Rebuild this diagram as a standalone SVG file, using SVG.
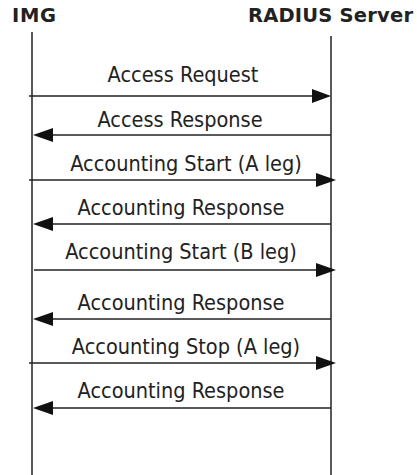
<svg xmlns="http://www.w3.org/2000/svg" width="417" height="475" viewBox="0 0 417 475">
<style>
.hdr{font-family:"DejaVu Sans","Liberation Sans",sans-serif;font-weight:bold;font-size:19.5px;fill:#222}
.lbl{font-family:"DejaVu Sans Condensed","DejaVu Sans",sans-serif;font-size:21.5px;fill:#222;text-anchor:middle}
.life{stroke:#222;stroke-width:1.5;fill:none}
.msg{stroke:#222;stroke-width:1.5;fill:none}
.head{fill:#111}
</style>
<rect width="417" height="475" fill="#fff"/>
<g id="img">
<text class="hdr" x="12" y="22" textLength="44" lengthAdjust="spacing">IMG</text>
<line class="life" x1="32" y1="32" x2="32" y2="475"/>
</g>
<g id="radius">
<text class="hdr" x="248" y="22" textLength="165" lengthAdjust="spacing">RADIUS Server</text>
<line class="life" x1="331" y1="36" x2="331" y2="475"/>
</g>
<g id="connectors">
<line class="msg" x1="29" y1="96" x2="314" y2="96"/>
<polygon class="head" points="312,89 331,96 312,103"/>
<text class="lbl" x="183" y="82">Access Request</text>
<line class="msg" x1="331" y1="135" x2="50" y2="135"/>
<polygon class="head" points="53,128 33,135 53,142"/>
<text class="lbl" x="180" y="127">Access Response</text>
<line class="msg" x1="29" y1="180" x2="318" y2="180"/>
<polygon class="head" points="316,173 336,180 316,187"/>
<text class="lbl" x="186" y="171">Accounting Start (A leg)</text>
<line class="msg" x1="331" y1="224" x2="50" y2="224"/>
<polygon class="head" points="53,217 33,224 53,231"/>
<text class="lbl" x="181" y="215">Accounting Response</text>
<line class="msg" x1="34" y1="270" x2="318" y2="270"/>
<polygon class="head" points="316,263 336,270 316,277"/>
<text class="lbl" x="181" y="259">Accounting Start (B leg)</text>
<line class="msg" x1="331" y1="319" x2="50" y2="319"/>
<polygon class="head" points="53,312 33,319 53,326"/>
<text class="lbl" x="181" y="310">Accounting Response</text>
<line class="msg" x1="29" y1="363" x2="318" y2="363"/>
<polygon class="head" points="316,356 336,363 316,370"/>
<text class="lbl" x="186" y="354">Accounting Stop (A leg)</text>
<line class="msg" x1="331" y1="408" x2="50" y2="408"/>
<polygon class="head" points="53,401 33,408 53,415"/>
<text class="lbl" x="181" y="398">Accounting Response</text>
</g>
</svg>
